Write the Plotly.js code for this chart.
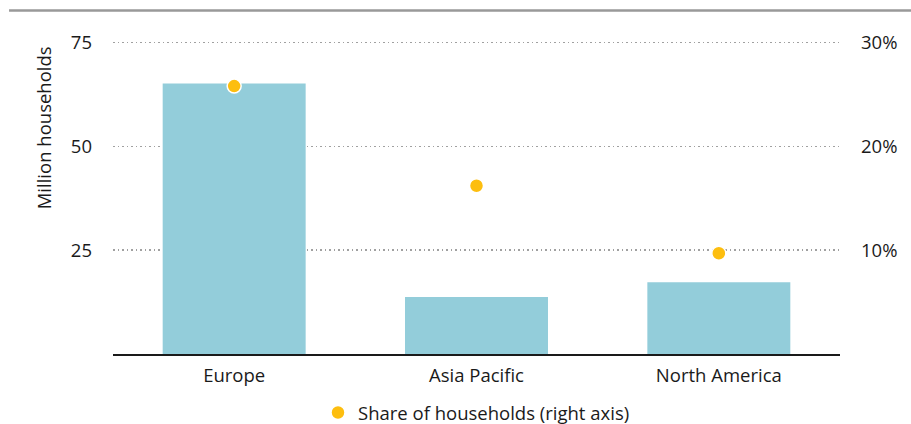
<!DOCTYPE html>
<html>
<head>
<meta charset="utf-8">
<script src="https://cdn.plot.ly/plotly-3.0.1.min.js"></script>
<style>html,body{margin:0;padding:0;background:#fff;}#chart{width:911px;height:424px;}</style>
</head>
<body>
<div id="chart"></div>
<script>
const categories = ["Europe", "Asia Pacific", "North America"];
const households = [65.1, 13.7, 17.3];
const shareOfHouseholds = [0.258, 0.162, 0.097];
const leftTicks = [25, 50, 75];
const rightTicks = [0.1, 0.2, 0.3];
const leftTitle = "Million households";

const font = {family: "Open Sans, Noto Sans, sans-serif", size: 18.5, color: "#1a1a1a"};

const traces = [
  {
    type: "bar",
    x: categories,
    y: households,
    marker: {color: "#93CDDA"},
    width: 0.59,
    showlegend: false,
    hoverinfo: "skip"
  },
  {
    type: "scatter",
    mode: "markers",
    x: categories,
    y: shareOfHouseholds,
    yaxis: "y2",
    name: "Share of households (right axis)",
    marker: {color: "#FDBE0F", size: 14, line: {color: "#ffffff", width: 1.5}}
  }
];

const layout = {
  width: 911,
  height: 424,
  margin: {l: 113, r: 71, t: 39.5, b: 70},
  paper_bgcolor: "#ffffff",
  plot_bgcolor: "#ffffff",
  font: font,
  xaxis: {
    type: "category",
    showline: true,
    linecolor: "#1a1a1a",
    linewidth: 1.5,
    showgrid: false,
    ticks: "",
    ticklabelstandoff: 4,
    tickfont: font,
    automargin: false,
    fixedrange: true
  },
  yaxis: {
    range: [0, 75.6],
    tickvals: leftTicks,
    showgrid: true,
    gridcolor: "#a0a0a0",
    gridwidth: 1.5,
    griddash: "1.5px,3px",
    zeroline: false,
    showline: false,
    ticks: "",
    ticklabelstandoff: 20,
    tickfont: font,
    automargin: false
  },
  yaxis2: {
    overlaying: "y",
    side: "right",
    range: [0, 0.3024],
    tickvals: rightTicks,
    tickformat: ".0%",
    showgrid: false,
    zeroline: false,
    showline: false,
    ticks: "",
    ticklabelstandoff: 20,
    automargin: false,
    tickfont: font
  },
  showlegend: true,
  legend: {
    orientation: "h",
    x: 0.5,
    xanchor: "center",
    yref: "container",
    y: 0.026,
    yanchor: "middle",
    font: font,
    itemwidth: 30
  },
  bargap: 0.41,
  annotations: [
    {text: leftTitle, xref: "paper", yref: "paper", x: -0.0963, y: 0.722,
     xanchor: "center", yanchor: "middle", textangle: -90, showarrow: false, font: font}
  ],
  shapes: [
    {type: "line", xref: "paper", yref: "paper", x0: -0.143, x1: 1.1, y0: 1.094, y1: 1.094,
     line: {color: "#999999", width: 2.5}}
  ]
};

Plotly.newPlot("chart", traces, layout, {displayModeBar: false, staticPlot: true});
</script>
</body>
</html>
